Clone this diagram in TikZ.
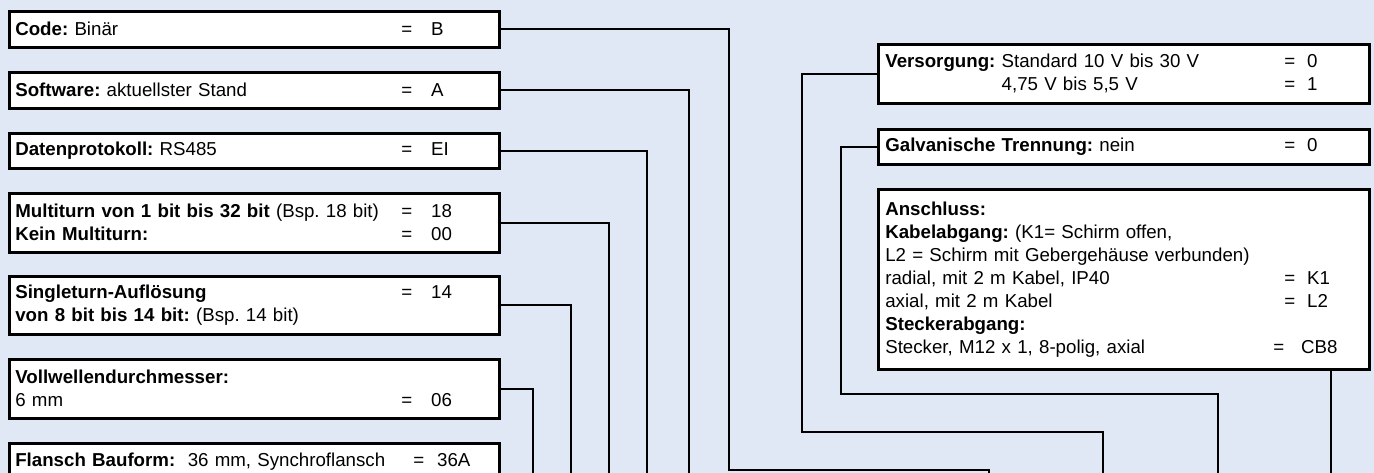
\documentclass[tikz,border=0pt]{standalone}
\usepackage{fontspec}
\setmainfont{Liberation Sans}
\definecolor{hintergrund}{RGB}{224,231,245}
\newcommand{\zeile}[4]{\makebox[#1][l]{#2}=\hspace{#3}#4}
\frenchspacing

\begin{document}
\begin{tikzpicture}[x=1pt,y=-1pt,
        feld/.style = {draw, line width=2.6pt, fill=white, anchor=north west,
                       inner xsep=6pt, inner ysep=0pt, text width=478pt, align=left,
                       font=\fontsize{18.7}{23}\selectfont},
        rechts/.style = {feld, text width=477pt, inner xsep=7pt},
        leitung/.style = {line width=1.7pt}]
    \fill[hintergrund] (0,0) rectangle (1374,473);
    \clip (0,0) rectangle (1374,473);

    \node [feld, minimum height=36pt] (code) at (8,10)
        {\zeile{386pt}{\textbf{Code:} Binär}{19pt}{B}};
    \node [feld, minimum height=36pt] (soft) at (8,71)
        {\zeile{386pt}{\textbf{Software:} aktuellster Stand}{19pt}{A}};
    \node [feld, minimum height=35pt] (daten) at (8,132)
        {\zeile{386pt}{\textbf{Datenprotokoll:} RS485}{19pt}{EI}};
    \node [feld, minimum height=59pt] (multi) at (8,192)
        {\zeile{386pt}{\textbf{Multiturn von 1 bit bis 32 bit} (Bsp. 18 bit)}{19pt}{18}\\
         \zeile{386pt}{\textbf{Kein Multiturn:}}{19pt}{00}};
    \node [feld, minimum height=58pt] (single) at (8,275)
        {\zeile{386pt}{\textbf{Singleturn-Auflösung}}{19pt}{14}\\
         \textbf{von 8 bit bis 14 bit:} (Bsp. 14 bit)};
    \node [feld, minimum height=59pt] (welle) at (8,358)
        {\textbf{Vollwellendurchmesser:}\\
         \zeile{386pt}{6 mm}{19pt}{06}};
    \node [feld, minimum height=36pt] (flansch) at (8,442)
        {\zeile{398pt}{\textbf{Flansch Bauform:}\ \ 36 mm, Synchroflansch}{13pt}{36A}};

    \node [rechts, minimum height=59pt] (versorg) at (877,43)
        {\zeile{399pt}{\textbf{Versorgung:} Standard 10 V bis 30 V}{12pt}{0}\\
         \zeile{399pt}{\phantom{\textbf{Versorgung:} }4,75 V bis 5,5 V}{12pt}{1}};
    \node [rechts, minimum height=35pt] (galv) at (877,128)
        {\zeile{399pt}{\textbf{Galvanische Trennung:} nein}{12pt}{0}};
    \node [rechts, minimum height=180pt] (anschl) at (877,188)
        {\textbf{Anschluss:}\\
         \textbf{Kabelabgang:} (K1= Schirm offen,\\
         L2 = Schirm mit Gebergehäuse verbunden)\\
         \zeile{399pt}{radial, mit 2 m Kabel, IP40}{12pt}{K1}\\
         \zeile{399pt}{axial, mit 2 m Kabel}{12pt}{L2}\\
         \textbf{Steckerabgang:}\\
         \zeile{388pt}{Stecker, M12 x 1, 8-polig, axial}{17pt}{CB8}};

    \coordinate (stecker) at (1331,480);

    \draw[leitung] (code.east) -| (729,470) -| (989,480);
    \draw[leitung] (soft.east) -| (689,480);
    \draw[leitung] (daten.east) -| (647,480);
    \draw[leitung] (multi.east) -| (609,480);
    \draw[leitung] (single.east) -| (571,480);
    \draw[leitung] (welle.east) -| (533,480);
    \draw[leitung] (versorg.west) -| (802,432) -| (1103,480);
    \draw[leitung] (galv.west) -| (841,394) -| (1218,480);
    \draw[leitung] (anschl.south -| stecker) -- (stecker);
\end{tikzpicture}
\end{document}
